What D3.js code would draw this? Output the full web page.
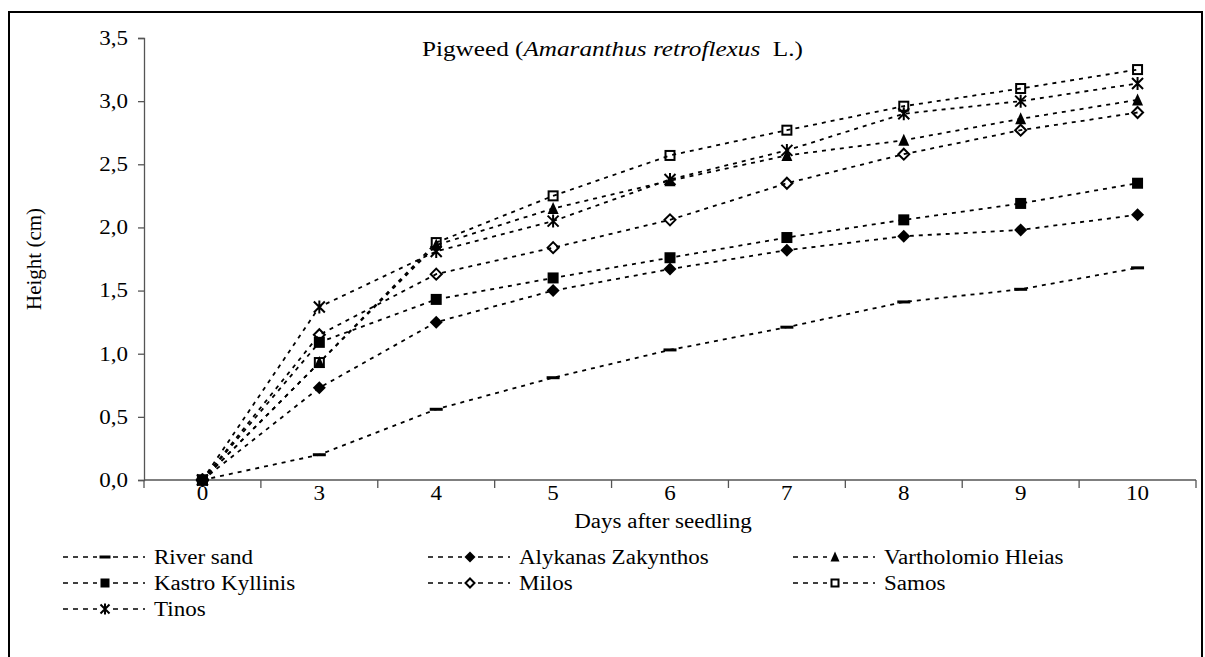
<!DOCTYPE html>
<html>
<head>
<meta charset="utf-8">
<script src="https://cdn.jsdelivr.net/npm/d3@7"></script>
<style>
  body { margin: 0; background: #fff; }
  svg, svg text, svg tspan { font-family: "Liberation Serif", "DejaVu Serif", "Times New Roman", serif !important; }
</style>
</head>
<body>
<div id="vis"></div>
<script>
// Days on the x axis
const DAYS = ["0", "3", "4", "5", "6", "7", "8", "9", "10"];

// Height (cm) per soil
const RIVER_SAND = [0, 0.20, 0.56, 0.81, 1.03, 1.21, 1.41, 1.51, 1.68];
const ALYKANAS = [0, 0.73, 1.25, 1.50, 1.67, 1.82, 1.93, 1.98, 2.10];
const VARTHOLOMIO = [0, 0.93, 1.86, 2.15, 2.37, 2.57, 2.69, 2.86, 3.01];
const KASTRO = [0, 1.09, 1.43, 1.60, 1.76, 1.92, 2.06, 2.19, 2.35];
const MILOS = [0, 1.15, 1.63, 1.84, 2.06, 2.35, 2.58, 2.77, 2.91];
const SAMOS = [0, 0.93, 1.88, 2.25, 2.57, 2.77, 2.96, 3.10, 3.25];
const TINOS = [0, 1.37, 1.81, 2.05, 2.38, 2.61, 2.90, 3.00, 3.14];

const NAMES = ["River sand", "Alykanas Zakynthos", "Vartholomio Hleias",
               "Kastro Kyllinis", "Milos", "Samos", "Tinos"];
const MARKERS = ["dash", "diamond", "triangle", "square", "diamondOpen", "squareOpen", "star"];
const Y_TICKS = [0, 0.5, 1, 1.5, 2, 2.5, 3, 3.5];

const series = [RIVER_SAND, ALYKANAS, VARTHOLOMIO, KASTRO, MILOS, SAMOS, TINOS]
  .map((v, i) => ({ name: NAMES[i], marker: MARKERS[i], values: v }));

const WIDTH = 1205;
const HEIGHT = 657;
const SQUASH = 1.15; // text is drawn a bit wider than the font

const SVG = d3.select("#vis").append("svg")
  .attr("width", WIDTH).attr("height", HEIGHT);

// widen text horizontally
function stretch(sel) {
  sel.each(function () {
    const w = this.getComputedTextLength();
    this.setAttribute("textLength", w * SQUASH);
    this.setAttribute("lengthAdjust", "spacingAndGlyphs");
  });
}

// outer frame (runs off the bottom)
SVG.append("rect")
  .attr("x", 9).attr("y", 12)
  .attr("width", 1193).attr("height", 700)
  .attr("fill", "none").attr("stroke", "#000").attr("stroke-width", 2);

const x = d3.scaleBand().domain(DAYS).range([144, 1196]);
const y = d3.scaleLinear().domain([0, 3.5]).range([480, 38]);

// y axis
const yAxis = SVG.append("g")
  .attr("transform", "translate(144,0)")
  .call(d3.axisLeft(y).tickValues(Y_TICKS).tickSize(6).tickPadding(10)
    .tickFormat(d => d3.format(".1f")(d).replace(".", ",")))
  .attr("font-family", null).attr("font-size", null);
yAxis.selectAll("text").style("font-size", "20px").call(stretch);

// x axis: ticks sit between categories
const xAxis = SVG.append("g").attr("transform", "translate(0,480)");
xAxis.append("line")
  .attr("x1", 144).attr("x2", 1196).attr("y1", 0).attr("y2", 0);
xAxis.selectAll("line.tick")
  .data(DAYS.concat(["end"]))
  .join("line")
  .attr("class", "tick")
  .attr("x1", (d, i) => i < DAYS.length ? x(d) : x.range()[1])
  .attr("x2", (d, i) => i < DAYS.length ? x(d) : x.range()[1])
  .attr("y1", 0).attr("y2", 8);
xAxis.selectAll("text")
  .data(DAYS)
  .join("text")
  .attr("x", d => x(d) + x.bandwidth() / 2)
  .attr("y", 20)
  .attr("text-anchor", "middle")
  .style("font-size", "20px")
  .text(d => d)
  .call(stretch);
xAxis.selectAll("line").attr("stroke", "#555").attr("stroke-width", 1.3);
yAxis.selectAll("line, path").attr("stroke", "#555").attr("stroke-width", 1.3);

// axis titles
SVG.append("text")
  .attr("x", 663).attr("y", 528)
  .attr("text-anchor", "middle")
  .style("font-size", "20px")
  .text("Days after seedling")
  .call(stretch);

SVG.append("text")
  .attr("transform", "translate(41,259) rotate(-90)")
  .attr("text-anchor", "middle")
  .style("font-size", "21px")
  .text("Height (cm)");

// chart title
const title = SVG.append("text")
  .attr("transform", "translate(422,56) scale(1.2,1)")
  .style("font-size", "21px");
title.append("tspan").text("Pigweed (");
title.append("tspan").style("font-style", "italic").text("Amaranthus retroflexus");
title.append("tspan").text("\u00a0 L.)");

// marker shapes
function drawMarker(g, type, s) {
  const h = s / 2;
  if (type === "dash") {
    g.append("rect").attr("x", -h - 1).attr("y", -1.5).attr("width", s + 2).attr("height", 3).attr("fill", "#000");
  } else if (type === "diamond") {
    g.append("path").attr("d", `M0,${-h - 1}L${h + 1},0L0,${h + 1}L${-h - 1},0Z`).attr("fill", "#000");
  } else if (type === "diamondOpen") {
    g.append("path").attr("d", `M0,${-h}L${h},0L0,${h}L${-h},0Z`)
      .attr("fill", "none").attr("stroke", "#000").attr("stroke-width", 2);
  } else if (type === "triangle") {
    g.append("path").attr("d", `M0,${-h - 1}L${h},${h}L${-h},${h}Z`).attr("fill", "#000");
  } else if (type === "square") {
    g.append("rect").attr("x", -h).attr("y", -h).attr("width", s).attr("height", s).attr("fill", "#000");
  } else if (type === "squareOpen") {
    g.append("rect").attr("x", -h + 1).attr("y", -h + 1).attr("width", s - 2).attr("height", s - 2)
      .attr("fill", "none").attr("stroke", "#000").attr("stroke-width", 2);
  } else if (type === "star") {
    g.append("path")
      .attr("d", `M${-h},${-h}L${h},${h}M${h},${-h}L${-h},${h}M0,${-h - 1}L0,${h + 1}`)
      .attr("fill", "none").attr("stroke", "#000").attr("stroke-width", 2);
  }
}

const line = d3.line()
  .x((d, i) => x(DAYS[i]) + x.bandwidth() / 2)
  .y(d => y(d));

const plot = SVG.append("g");
series.forEach(s => {
  plot.append("path")
    .datum(s.values)
    .attr("d", line)
    .attr("fill", "none")
    .attr("stroke", "#000")
    .attr("stroke-width", 1.8)
    .attr("stroke-dasharray", "4,5");
});
series.forEach(s => {
  s.values.forEach((v, i) => {
    const g = plot.append("g")
      .attr("transform", `translate(${x(DAYS[i]) + x.bandwidth() / 2},${y(v)})`);
    drawMarker(g, s.marker, 11);
  });
});

// legend, three columns
const LEG_COLS = [63, 428, 793];
const LEG_ROWS = [557, 583, 609];
series.forEach((s, i) => {
  const lx = LEG_COLS[i % 3];
  const ly = LEG_ROWS[Math.floor(i / 3)];
  const g = SVG.append("g").attr("transform", `translate(${lx},${ly})`);
  g.append("line")
    .attr("x1", 0).attr("x2", 82).attr("y1", 0).attr("y2", 0)
    .attr("stroke", "#000").attr("stroke-width", 1.5).attr("stroke-dasharray", "5,5");
  const m = g.append("g").attr("transform", "translate(42,0)");
  m.append("rect").attr("x", -8).attr("y", -2).attr("width", 16).attr("height", 4).attr("fill", "#fff");
  drawMarker(m, s.marker, 9);
  g.append("text")
    .attr("x", 91).attr("y", 7)
    .style("font-size", "20px")
    .text(s.name)
    .call(stretch);
});
</script>
</body>
</html>
